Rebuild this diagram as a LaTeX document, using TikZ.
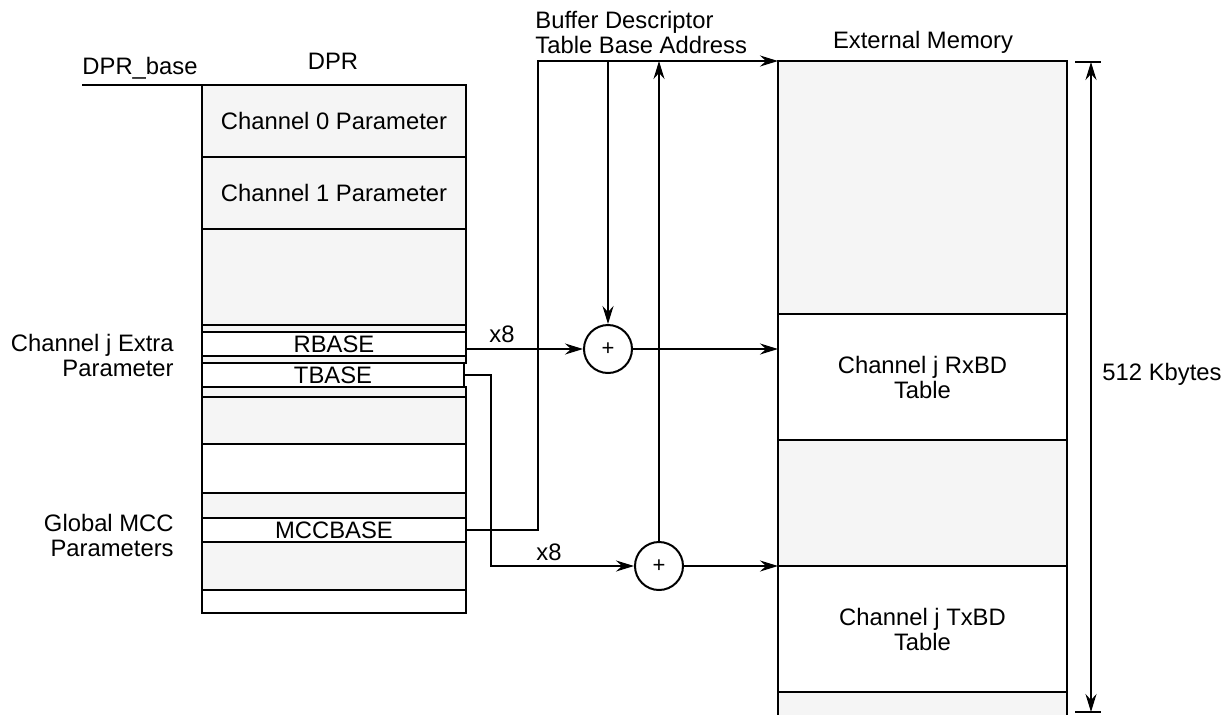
\documentclass[tikz,border=0pt]{standalone}
\usepackage{fontspec}
\setmainfont{Liberation Sans}
\usetikzlibrary{arrows.meta}
\definecolor{lgray}{HTML}{F5F5F5}
\begin{document}
\begin{tikzpicture}[x=0.5pt,y=-0.5pt,
  every node/.style={font=\fontsize{11.9}{12.5}\selectfont},
  cell/.style={draw=black,line width=1pt,anchor=north west,inner sep=0pt,outer sep=0pt,minimum width=#1},
  cell/.default=132pt,
  gcell/.style={cell=#1,fill=lgray},
  gcell/.default=132pt,
  wcell/.style={cell=#1,fill=white},
  wcell/.default=132pt,
  conn/.style={line width=1pt},
  tip/.tip={Stealth[length=9pt,width=5.5pt,inset=3pt]},
  arr/.style={conn,-tip},
  adder/.style={circle,draw=black,line width=1pt,fill=white,minimum size=24pt,inner sep=0pt,font=\fontsize{11}{12}\selectfont},
  lbl/.style={inner sep=0pt}
]
\useasboundingbox (0,0) rectangle (1228,714);

% DPR column
\node[gcell,minimum height=36pt] (c0) at (202,85) {Channel 0 Parameter};
\node[gcell,minimum height=36pt] (c1) at (202,157) {Channel 1 Parameter};
\node[gcell,minimum height=48pt] (g1) at (202,229) {};
\node[gcell,minimum height=3.5pt] (g2) at (202,325) {};
\node[wcell,minimum height=12pt] (rb) at (202,332) {RBASE};
\node[gcell,minimum height=3.5pt] (g3) at (202,356) {};
\node[gcell,minimum height=5pt] (g4) at (202,387) {};
\node[gcell,minimum height=23.5pt] (g5) at (202,397) {};
\node[wcell,minimum height=24.5pt] (w1) at (202,444) {};
\node[gcell,minimum height=12.5pt] (g6) at (202,493) {};
\node[wcell,minimum height=12pt] (mcc) at (202,518) {MCCBASE};
\node[gcell,minimum height=24pt] (g7) at (202,542) {};
\node[wcell,minimum height=11.5pt] (w2) at (202,590) {};
\node[wcell=131pt,minimum height=12pt] (tb) at (202,363) {TBASE};

% External memory column
\node[gcell=144.5pt,minimum height=126.5pt] (e1) at (778,61) {};
\node[wcell=144.5pt,minimum height=63pt,align=center] (rx) at (778,314) {Channel j RxBD\\Table};
\node[gcell=144.5pt,minimum height=63pt] (e2) at (778,440) {};
\node[wcell=144.5pt,minimum height=63pt,align=center] (tx) at (778,566) {Channel j TxBD\\Table};
\node[gcell=144.5pt,minimum height=20pt] (e3) at (778,692) {};

% adders
\node[adder] (add1) at (608,349) {+};
\node[adder] (add2) at (659,566) {+};

% labels
\node[lbl] (dprbase) at (140,68) {DPR\_base};
\node[lbl] (dprt) at (333,61) {DPR};
\node[lbl,anchor=west,align=left] (bdt) at (535,32) {Buffer Descriptor\\Table Base Address};
\node[lbl] (extt) at (923,42) {External Memory};
\node[lbl,anchor=east,align=right] (cjx) at (174,355) {Channel j Extra\\Parameter};
\node[lbl,anchor=east,align=right] (gmcc) at (174,535) {Global MCC\\Parameters};
\node[lbl] (x8a) at (502,334) {x8};
\node[lbl] (x8b) at (549,552) {x8};
\node[lbl] (kb) at (1162,374) {512 Kbytes};

% coordinates
\coordinate (dprl) at (82,85);
\coordinate (mccx) at (538,530);
\coordinate (topl) at (538,61);
\coordinate (j1) at (608,61);
\coordinate (j2) at (659,61);
\coordinate (tbx) at (491,375);
\coordinate (tby) at (491,566);
\coordinate (t1a) at (1075,62);
\coordinate (t1b) at (1101,62);
\coordinate (t2a) at (1075,712);
\coordinate (t2b) at (1101,712);
\coordinate (d1) at (1091,62);
\coordinate (d2) at (1091,712);

% connectors
\draw[conn] (dprl) -- (c0.north west);
\draw[arr] (rb.east |- add1) -- (add1.west);
\draw[arr] (add1.east) -- (add1 -| e1.west);
\draw[arr] (tb.east |- tbx) -- (tbx) -- (tby) -- (add2.west);
\draw[arr] (add2.east) -- (tx.north west);
\draw[arr] (mcc.east |- mccx) -- (mccx) -- (topl) -- (e1.north west);
\draw[arr] (j1) -- (add1.north);
\draw[arr] (add2.north) -- (j2);
\draw[conn] (t1a) -- (t1b);
\draw[conn] (t2a) -- (t2b);
\draw[conn,tip-tip] (d1) -- (d2);
\end{tikzpicture}
\end{document}
